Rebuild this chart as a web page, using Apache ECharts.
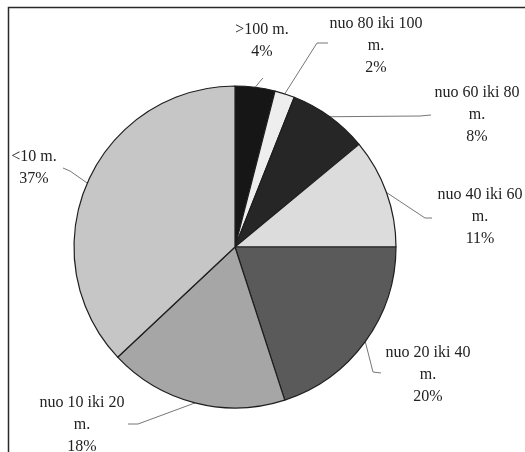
<!DOCTYPE html>
<html>
<head>
<meta charset="utf-8">
<script src="https://cdn.jsdelivr.net/npm/echarts@6/dist/echarts.min.js"></script>
<style>
  html, body { margin: 0; padding: 0; background: #fff; }
  #chart { width: 525px; height: 452px; }
</style>
</head>
<body>
<div id="chart"></div>
<script>
// Share of distances, clockwise from 12 o'clock
const categories = ['>100 m.', 'nuo 80 iki 100 m.', 'nuo 60 iki 80 m.', 'nuo 40 iki 60 m.', 'nuo 20 iki 40 m.', 'nuo 10 iki 20 m.', '<10 m.'];
const shares = [4, 2, 8, 11, 20, 18, 37];
const sliceColors = ['#161616', '#eeeeee', '#262626', '#dcdcdc', '#5a5a5a', '#a6a6a6', '#c6c6c6'];

// Label anchor (centre of text block) and leader bend points per slice
const labelSpots = [
  { x: 262, y: 41, bend: [[262, 79], [263, 78]] },
  { x: 376, y: 46, bend: [[317, 43], [328, 43]] },
  { x: 477, y: 115, bend: [[420, 116], [431, 115]] },
  { x: 480, y: 217, bend: [[425, 218], [432, 218]] },
  { x: 428, y: 375, bend: [[373, 372], [381, 373]] },
  { x: 82, y: 425, bend: [[138, 424], [128, 424]] },
  { x: 34, y: 168, bend: [[70, 171], [63, 168]] }
];

const chart = echarts.init(document.getElementById('chart'));

chart.setOption({
  animation: false,
  backgroundColor: '#ffffff',
  graphic: [{
    type: 'rect',
    shape: { x: 8.5, y: 7.5, width: 600, height: 500 },
    style: { fill: 'none', stroke: '#2a2a2a', lineWidth: 1.5 },
    silent: true
  }],
  series: [{
    type: 'pie',
    center: [235, 247],
    radius: 161,
    startAngle: 90,
    clockwise: true,
    avoidLabelOverlap: false,
    data: categories.map((name, i) => ({
      name: name,
      value: shares[i],
      itemStyle: { color: sliceColors[i] }
    })),
    itemStyle: { borderColor: '#1e1e1e', borderWidth: 1.2 },
    label: {
      show: true,
      fontFamily: 'Liberation Serif',
      fontSize: 16,
      lineHeight: 22,
      color: '#222',
      align: 'center',
      formatter: p => {
        const text = p.name.indexOf('nuo') === 0 ? p.name.replace(' m.', '\nm.') : p.name;
        return text + '\n' + p.value + '%';
      }
    },
    labelLine: {
      show: true,
      lineStyle: { color: '#777', width: 1 }
    },
    labelLayout: params => {
      const s = labelSpots[params.dataIndex];
      const start = params.labelLinePoints ? params.labelLinePoints[0] : s.bend[0];
      return {
        x: s.x,
        y: s.y,
        align: 'center',
        verticalAlign: 'middle',
        labelLinePoints: [start, s.bend[0], s.bend[1]]
      };
    }
  }]
});
</script>
</body>
</html>
